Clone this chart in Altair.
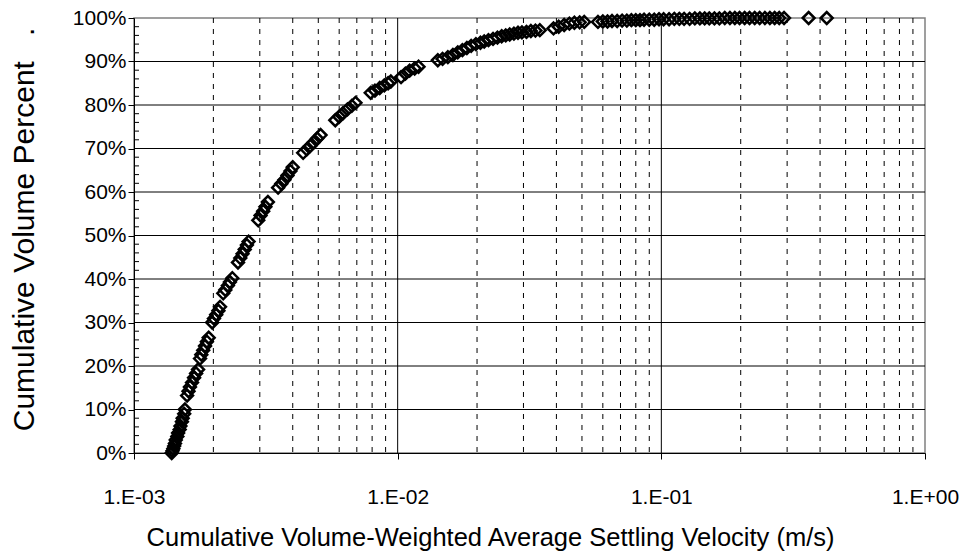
import altair as alt
import pandas as pd

# Cumulative volume-weighted average settling velocity (m/s)
velocity = [
    0.00139, 0.00140, 0.00141, 0.00142, 0.00143, 0.00144, 0.00146, 0.00147, 0.00149, 0.00150,
    0.00152, 0.00153, 0.00155, 0.00156,
    0.00159, 0.00161, 0.00163, 0.00166, 0.00169, 0.00172, 0.00175,
    0.00178, 0.00180, 0.00183, 0.00186, 0.00189, 0.00192,
    0.00198, 0.00201, 0.00205, 0.00209, 0.00212,
    0.00218, 0.00222, 0.00227, 0.00231, 0.00236,
    0.00248, 0.00253, 0.00258, 0.00263, 0.00268, 0.00272,
    0.00296, 0.00302, 0.00309, 0.00315, 0.00322,
    0.00352, 0.00362, 0.00372, 0.00382, 0.00392, 0.00400,
    0.00438, 0.00452, 0.00466, 0.00480, 0.00495, 0.00510,
    0.00580, 0.00600, 0.00620, 0.00645, 0.00670, 0.00692,
    0.00790, 0.00820, 0.00855, 0.00890, 0.00920, 0.00942,
    0.0103, 0.0107, 0.0111, 0.0116, 0.0120,
    0.0142, 0.0148, 0.0155, 0.0162, 0.0169, 0.0176, 0.0183, 0.0190, 0.0198, 0.0206,
    0.0213, 0.0221, 0.0230, 0.0239, 0.0248, 0.0257, 0.0266, 0.0276, 0.0286, 0.0296,
    0.0308, 0.0320, 0.0333, 0.0346,
    0.0390, 0.0408, 0.0428, 0.0448, 0.0468, 0.0490, 0.0510,
    0.0575, 0.0600, 0.0625, 0.0650, 0.0680, 0.0710, 0.0740, 0.0770, 0.0800, 0.0830,
    0.0860, 0.0900, 0.0940, 0.0980, 0.102, 0.107, 0.112, 0.117, 0.122, 0.128,
    0.134, 0.140, 0.146, 0.152, 0.159, 0.166, 0.174, 0.182, 0.190, 0.198,
    0.207, 0.216, 0.226, 0.236, 0.247, 0.258, 0.269, 0.280, 0.292,
    0.362, 0.424,
]

# Cumulative volume percent
percent = [
    0.0, 0.5, 1.0, 1.6, 2.2, 3.0, 3.8, 4.6, 5.4, 6.2,
    7.2, 8.0, 9.0, 10.0,
    13.2, 14.2, 15.2, 16.2, 17.3, 18.3, 19.2,
    21.7, 22.6, 23.6, 24.6, 25.6, 26.5,
    30.0, 30.9, 31.8, 32.7, 33.6,
    36.7, 37.5, 38.5, 39.3, 40.2,
    43.8, 44.8, 45.8, 46.8, 47.8, 48.6,
    53.5, 54.6, 55.6, 56.6, 57.7,
    61.0, 61.9, 62.8, 63.8, 64.8, 65.7,
    69.0, 69.8, 70.6, 71.4, 72.3, 73.1,
    76.5, 77.3, 78.1, 79.0, 79.8, 80.5,
    82.8, 83.3, 83.9, 84.5, 85.0, 85.4,
    86.4, 87.2, 87.9, 88.4, 88.8,
    90.3, 90.6, 91.0, 91.5, 92.1, 92.6, 93.1, 93.6, 94.0, 94.3,
    94.6, 94.9, 95.2, 95.5, 95.8, 96.0, 96.2, 96.4, 96.6, 96.7,
    96.8, 97.0, 97.1, 97.2,
    97.6, 98.0, 98.4, 98.7, 98.9, 99.0, 99.1,
    99.1, 99.2, 99.2, 99.3, 99.3, 99.4, 99.4, 99.5, 99.5, 99.5,
    99.6, 99.6, 99.6, 99.7, 99.7, 99.7, 99.8, 99.8, 99.8, 99.8,
    99.9, 99.9, 99.9, 99.9, 99.9, 99.9, 100.0, 100.0, 100.0, 100.0,
    100.0, 100.0, 100.0, 100.0, 100.0, 100.0, 100.0, 100.0, 100.0,
    100.0, 100.0,
]

x_major = [0.001, 0.01, 0.1, 1.0]
x_minor = [m * d for d in (0.001, 0.01, 0.1) for m in range(2, 10)]
y_major = [i / 10 for i in range(11)]
y_minor = [i / 50 for i in range(1, 50) if i % 5 != 0]

df = pd.DataFrame({"v": velocity, "p": [p / 100 for p in percent]})

FONT = "Liberation Sans"
xscale = alt.Scale(type="log", domain=[0.001, 1.0], nice=False)
yscale = alt.Scale(domain=[0, 1], nice=False)

label_expr = (
    "'1.E' + (round(log(datum.value)/LN10) < 0 ? '-0' + abs(round(log(datum.value)/LN10)) : '+00')"
)

xaxis = alt.Axis(
    values=x_major,
    labelExpr=label_expr,
    title="Cumulative Volume-Weighted Average Settling Velocity (m/s)",
    grid=False,
    tickSize=6,
    tickColor="#000000",
    domainColor="#000000",
    labelFont=FONT,
    labelFontSize=21,
    labelColor="#000000",
    labelPadding=27,
    labelFlush=False,
    titleFont=FONT,
    titleFontSize=25.5,
    titleFontWeight="normal",
    titleColor="#000000",
    titleBaseline="alphabetic",
    titleX=356,
    titleY=92,
)

yaxis = alt.Axis(
    values=y_major,
    format=".0%",
    title="Cumulative Volume Percent \u00a0\u00a0.",
    grid=False,
    tickSize=6,
    tickColor="#000000",
    domainColor="#000000",
    labelFont=FONT,
    labelFontSize=21,
    labelColor="#000000",
    labelPadding=2,
    labelFlush=False,
    titleFont=FONT,
    titleFontSize=30,
    titleFontWeight="normal",
    titleColor="#000000",
    titleBaseline="alphabetic",
    titleX=-101,
    titleY=211,
)

minor_grid = alt.Chart(pd.DataFrame({"v": x_minor})).mark_rule(
    color="#000000", strokeWidth=1, strokeDash=[5, 6]
).encode(x=alt.X("v:Q", scale=xscale, axis=xaxis))

major_vgrid = alt.Chart(pd.DataFrame({"v": x_major[1:-1]})).mark_rule(
    color="#000000", strokeWidth=1
).encode(x=alt.X("v:Q", scale=xscale, axis=xaxis))

hgrid = alt.Chart(pd.DataFrame({"p": y_major[1:-1]})).mark_rule(
    color="#000000", strokeWidth=1
).encode(y=alt.Y("p:Q", scale=yscale, axis=yaxis))

ytick_minor = alt.Chart(pd.DataFrame({"p": y_minor})).mark_rule(
    color="#000000", strokeWidth=1
).encode(
    y=alt.Y("p:Q", scale=yscale, axis=yaxis),
    x=alt.value(0),
    x2=alt.value(5),
)

points = alt.Chart(df).mark_point(
    shape="diamond", filled=False, color="#000000", size=140, strokeWidth=2.5, opacity=1
).encode(
    x=alt.X("v:Q", scale=xscale, axis=xaxis),
    y=alt.Y("p:Q", scale=yscale, axis=yaxis),
)

chart = alt.layer(minor_grid, major_vgrid, hgrid, ytick_minor, points).properties(
    width=791,
    height=435,
    padding={"left": 134, "top": 18, "right": 38, "bottom": 101},
    autosize=alt.AutoSizeParams(type="none"),
    background="#ffffff",
).configure_view(stroke="#808080", strokeWidth=1.5)

chart.save("out.html", embed_options={"renderer": "svg", "actions": False})
